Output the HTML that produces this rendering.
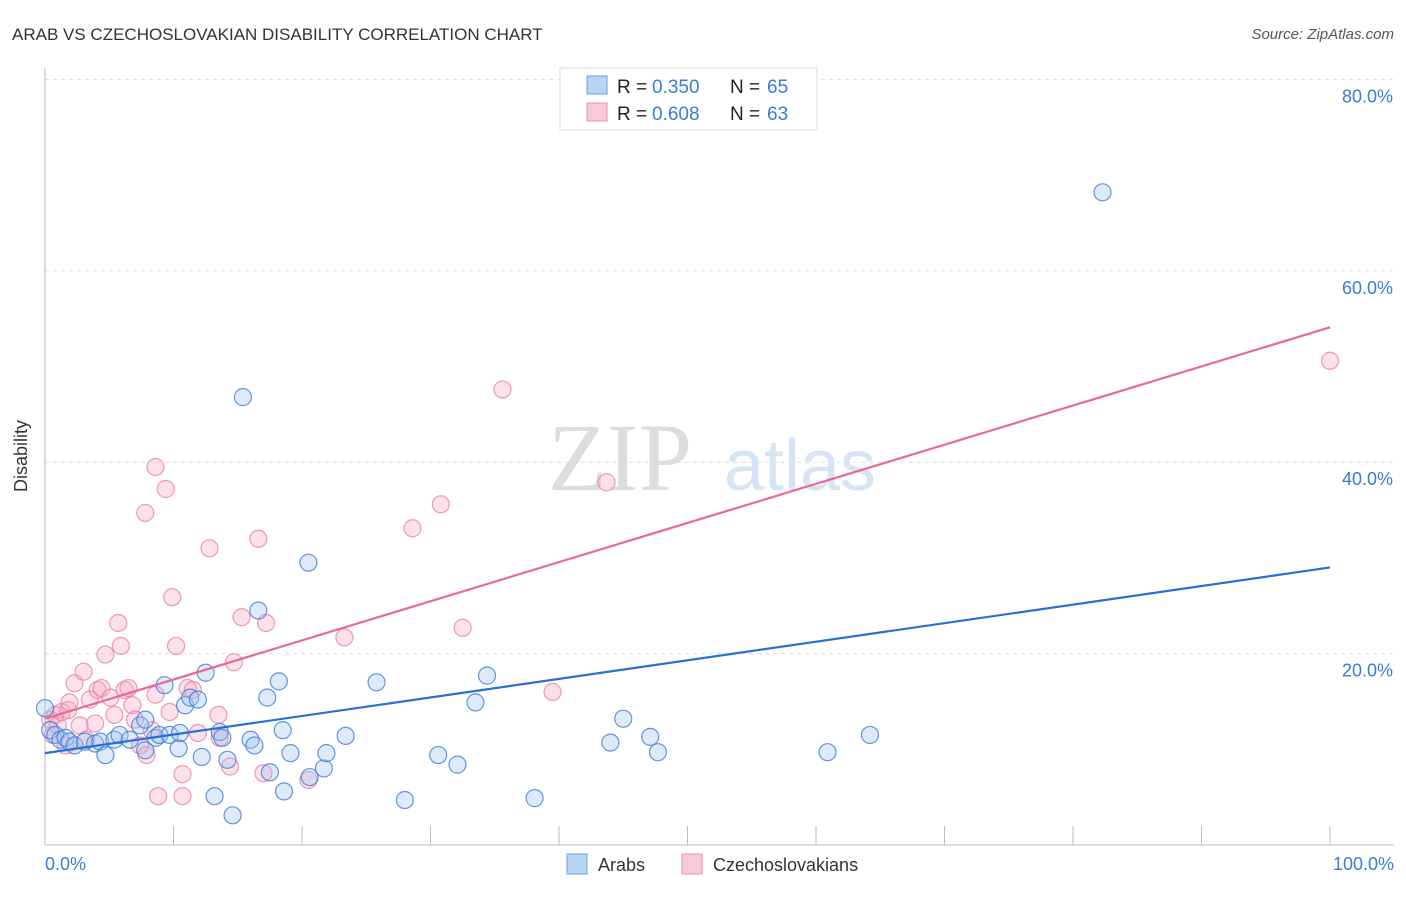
<!DOCTYPE html>
<html><head><meta charset="utf-8"><style>
body{margin:0;background:#fff;font-family:"Liberation Sans",sans-serif}
</style></head><body>
<svg width="1406" height="892" xmlns="http://www.w3.org/2000/svg">
<text x="12" y="40" font-size="17" fill="#333">ARAB VS CZECHOSLOVAKIAN DISABILITY CORRELATION CHART</text>
<text x="1394" y="39" font-size="15" fill="#555" text-anchor="end" font-style="italic">Source: ZipAtlas.com</text>
<g id="grid"></g>
<text x="620" y="490" font-size="96" fill="#ddd" font-family="Liberation Serif" text-anchor="middle">ZIP</text>
<text x="800" y="490" font-size="72" fill="#d6e4f5" text-anchor="middle">atlas</text>
<g id="pts"></g>
<g id="lines"></g>
<text x="27" y="456" font-size="18" fill="#333" transform="rotate(-90 27 456)" text-anchor="middle">Disability</text>
<text x="45" y="870" font-size="18" fill="#3a7bd5">0.0%</text>
<text x="1394" y="870" font-size="18" fill="#3a7bd5" text-anchor="end">100.0%</text>
<g>
<rect x="560" y="68" width="257" height="62" fill="#fff" stroke="#ddd"/>
<rect x="587" y="76" width="20" height="18" fill="#b8d4f5" stroke="#6a9ee0"/>
<rect x="587" y="103" width="20" height="18" fill="#fbc8d8" stroke="#e890ad"/>
<text x="617" y="93" font-size="19" fill="#222">R =</text>
<text x="652" y="93" font-size="19" fill="#3a7bd5">0.350</text>
<text x="730" y="93" font-size="19" fill="#222">N =</text>
<text x="767" y="93" font-size="19" fill="#3a7bd5">65</text>
<text x="617" y="120" font-size="19" fill="#222">R =</text>
<text x="652" y="120" font-size="19" fill="#3a7bd5">0.608</text>
<text x="730" y="120" font-size="19" fill="#222">N =</text>
<text x="767" y="120" font-size="19" fill="#3a7bd5">63</text>
</g>
<g>
<rect x="567" y="854" width="20" height="20" fill="#b8d4f5" stroke="#6a9ee0"/>
<text x="598" y="871" font-size="18" fill="#333">Arabs</text>
<rect x="682" y="854" width="20" height="20" fill="#fbc8d8" stroke="#e890ad"/>
<text x="713" y="871" font-size="18" fill="#333">Czechoslovakians</text>
</g>
</svg>
<script>
const yTicks=[20,40,60,80];
const xTicks=[0,10,20,30,40,50,60,70,80,90,100];
const bluePx=[[45,708],[50,730],[55,735],[60,740],[65,738],[70,742],[75,745],[85,742],[95,744],[100,742],[105,755],[115,740],[120,735],[130,740],[140,725],[145,750],[145,720],[155,738],[160,735],[165,685],[170,735],[178,748],[180,733],[185,705],[190,698],[198,700],[202,757],[206,673],[220,732],[222,738],[228,760],[215,796],[232,815],[243,397],[250,740],[255,745],[258,611],[267,698],[270,772],[279,681],[283,730],[284,791],[290,753],[308,563],[310,777],[324,768],[327,753],[346,736],[377,682],[405,800],[438,755],[457,765],[476,702],[487,676],[535,798],[611,743],[623,719],[650,737],[658,752],[828,752],[870,735],[1102,192]];
const pinkPx=[[50,720],[53,735],[55,715],[58,725],[62,712],[65,745],[68,710],[70,702],[75,683],[80,725],[84,672],[86,740],[90,700],[95,723],[98,690],[102,688],[106,655],[110,698],[115,715],[118,623],[121,646],[125,690],[128,688],[132,705],[135,720],[140,745],[145,513],[147,755],[152,730],[155,695],[156,467],[158,796],[166,489],[170,712],[172,597],[176,646],[182,774],[182,796],[188,688],[193,690],[198,733],[210,548],[219,715],[220,738],[230,767],[234,662],[242,617],[258,539],[264,773],[266,623],[308,780],[345,637],[413,528],[441,504],[462,628],[503,389],[553,692],[607,482],[1330,361]];
const blueX=bluePx.map(p=>+((p[0]-45)/12.85).toFixed(1));
const blueY=bluePx.map(p=>+((845-p[1])/9.57).toFixed(1));
const pinkX=pinkPx.map(p=>+((p[0]-45)/12.85).toFixed(1));
const pinkY=pinkPx.map(p=>+((845-p[1])/9.57).toFixed(1));
const blueTrend=[9.6,29.0];
const pinkTrend=[13.2,54.1];
const sx=v=>45+v*12.85, sy=v=>845-v*9.57;
const NS="http://www.w3.org/2000/svg";
function mk(t,a,p){const e=document.createElementNS(NS,t);for(const k in a)e.setAttribute(k,a[k]);p.appendChild(e);return e;}
const g=document.getElementById('grid');
yTicks.forEach(t=>{
 const l=mk('line',{x1:45,x2:1394,y1:sy(t),y2:sy(t),stroke:'#ddd','stroke-dasharray':'4 4'},g);
 
 
 const tx=mk('text',{x:1393,y:sy(t)+23,'font-size':18,fill:'#3a7bd5','text-anchor':'end'},g);
 tx.textContent=t.toFixed(1)+'%';
 
 
});
const ax=mk('line',{x1:45,x2:45,y1:68,y2:845,stroke:'#bbb'},g);


const bx=mk('line',{x1:45,x2:1394,y1:845,y2:845,stroke:'#bbb'},g);


xTicks.forEach(t=>{
 const l=mk('line',{x1:sx(t),x2:sx(t),y1:826,y2:845,stroke:'#bbb'},g);
 
 
});
const pg=document.getElementById('pts');
pinkX.forEach((x,i)=>{
 const c=mk('circle',{cx:sx(x),cy:sy(pinkY[i]),r:8.5,fill:'rgba(246,168,194,0.35)',stroke:'rgba(232,130,165,0.8)','stroke-width':1.2},pg);
 
 
});
blueX.forEach((x,i)=>{
 const c=mk('circle',{cx:sx(x),cy:sy(blueY[i]),r:8.5,fill:'rgba(160,196,240,0.35)',stroke:'rgba(60,125,215,0.8)','stroke-width':1.2},pg);
 
 
});
const lg=document.getElementById('lines');
const b=mk('line',{x1:sx(0),y1:sy(blueTrend[0]),x2:sx(100),y2:sy(blueTrend[1]),stroke:'#2a6fd6','stroke-width':2.2},lg);


const p=mk('line',{x1:sx(0),y1:sy(pinkTrend[0]),x2:sx(100),y2:sy(pinkTrend[1]),stroke:'#e8689a','stroke-width':2.2},lg);


</script>
</body></html>
